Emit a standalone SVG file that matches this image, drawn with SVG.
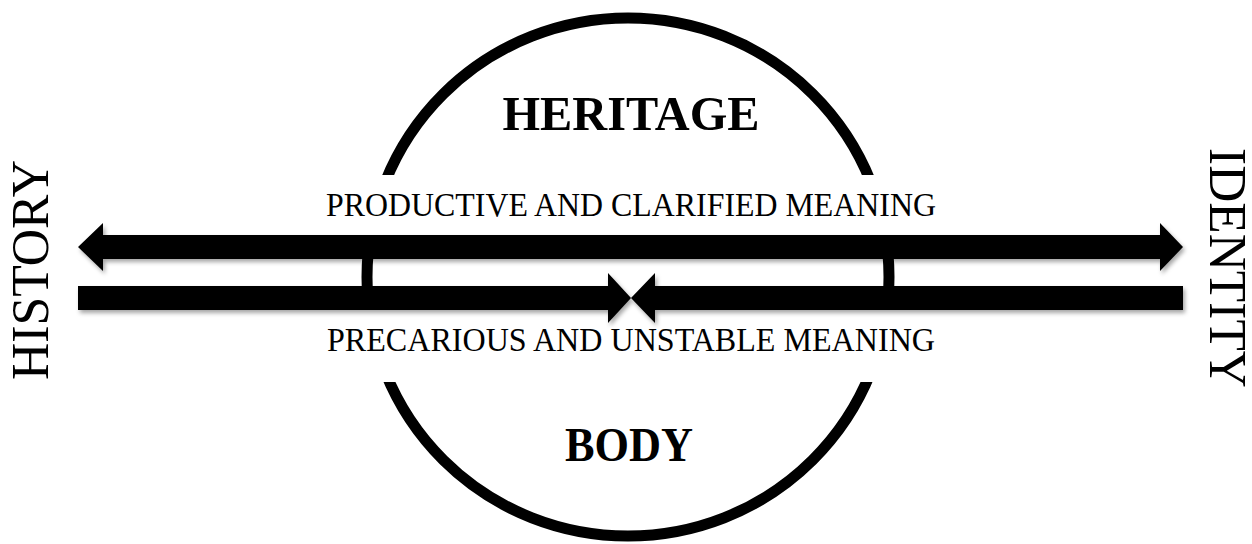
<svg xmlns="http://www.w3.org/2000/svg" width="1252" height="544" viewBox="0 0 1252 544">
<style>
.serif{font-family:"Liberation Serif","Times New Roman",serif;fill:#000}
.big{font-size:48px;font-weight:bold}
.mid{font-size:34.5px}
.side{font-size:53px}
.arr{fill:#000}
</style>
<defs>
<filter id="sh" x="-5%" y="-50%" width="110%" height="200%">
<feDropShadow dx="2" dy="3" stdDeviation="2" flood-color="#000" flood-opacity="0.35"/>
</filter>
<clipPath id="cut">
<rect x="0" y="0" width="1252" height="175"/>
<rect x="0" y="235" width="1252" height="75"/>
<rect x="0" y="382" width="1252" height="162"/>
</clipPath>
</defs>
<rect width="1252" height="544" fill="#fff"/>
<g id="circle">
<ellipse cx="628" cy="277" rx="261" ry="259" fill="none" stroke="#000" stroke-width="11" clip-path="url(#cut)"/>
</g>
<g id="connectors" filter="url(#sh)">
<polygon class="arr" points="78,247 103,223 103,235 1160,235 1160,223 1183,247 1160,271 1160,259 103,259 103,271"/>
<polygon class="arr" points="78,286 608,286 608,273 631,298 608,323 608,310 78,310"/>
<polygon class="arr" points="1183,286 655,286 655,273 631,298 655,323 655,310 1183,310"/>
</g>
<g id="heritage"><text class="serif big" x="631" y="130" text-anchor="middle" textLength="257" lengthAdjust="spacingAndGlyphs">HERITAGE</text></g>
<g id="body"><text class="serif big" x="629" y="461" text-anchor="middle" textLength="128" lengthAdjust="spacingAndGlyphs">BODY</text></g>
<g id="productive"><text class="serif mid" x="631" y="216" text-anchor="middle" textLength="610" lengthAdjust="spacingAndGlyphs">PRODUCTIVE AND CLARIFIED MEANING</text></g>
<g id="precarious"><text class="serif mid" x="631" y="351" text-anchor="middle" textLength="608" lengthAdjust="spacingAndGlyphs">PRECARIOUS AND UNSTABLE MEANING</text></g>
<g id="history"><text class="serif side" transform="translate(48,270) rotate(-90)" text-anchor="middle" textLength="220" lengthAdjust="spacingAndGlyphs">HISTORY</text></g>
<g id="identity"><text class="serif side" transform="translate(1210,268) rotate(90)" text-anchor="middle" textLength="240" lengthAdjust="spacingAndGlyphs">IDENTITY</text></g>
</svg>
